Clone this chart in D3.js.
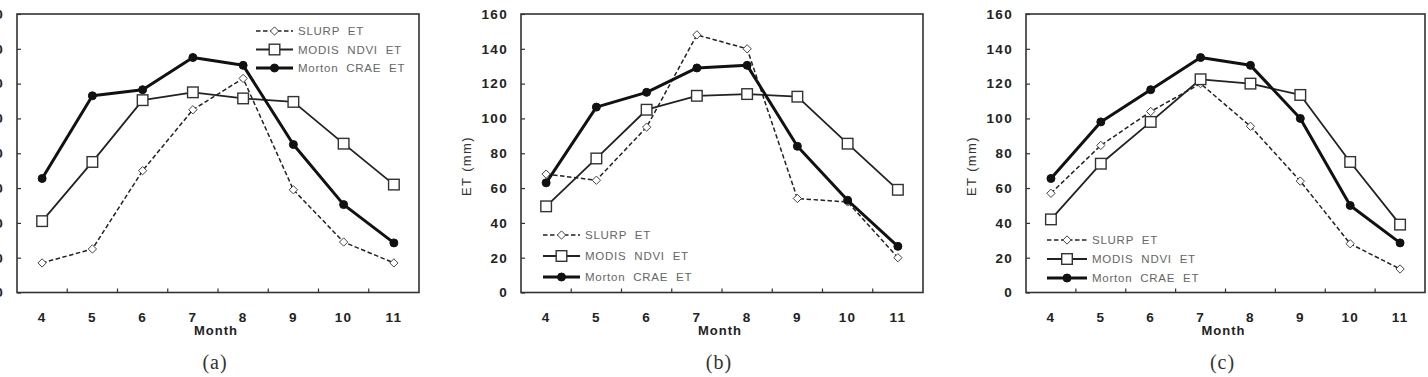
<!DOCTYPE html>
<html>
<head>
<meta charset="utf-8">
<script src="https://cdn.jsdelivr.net/npm/d3@7"></script>
<style>
  html, body { margin: 0; padding: 0; background: #fff; overflow: hidden; }
  svg { display: block; }
</style>
</head>
<body>
<svg id="chart" width="1428" height="377"></svg>
<script>
// ---- data ----
const months = ["4", "5", "6", "7", "8", "9", "10", "11"];
const yTicks = [0, 20, 40, 60, 80, 100, 120, 140, 160];
const seriesNames = ["SLURP  ET", "MODIS  NDVI  ET", "Morton  CRAE  ET"];
const panelLabels = ["(a)", "(b)", "(c)"];

const slurpA  = [17, 25, 70, 105, 123, 59, 29, 17];
const modisA  = [41, 75, 110.5, 115, 111.5, 109.5, 85.5, 62];
const mortonA = [65.5, 113, 116.5, 135, 130.5, 85, 50.5, 28.5];

const slurpB  = [68, 64.5, 95, 148, 140, 54, 52, 20];
const modisB  = [49.5, 77, 105, 113, 114, 112.5, 85.5, 59];
const mortonB = [63, 106.5, 115, 129, 130.5, 84, 53, 26.5];

const slurpC  = [57, 84.5, 104, 120, 95.5, 64, 28, 13.5];
const modisC  = [42, 74, 98, 122.5, 120, 113.5, 75, 39];
const mortonC = [65.5, 98, 116.5, 135, 130.5, 100, 50, 28.5];

// ---- layout ----
const panels = [
  { left: 17,   right: 419,  series: [slurpA, modisA, mortonA], legend: { x: 256,  y: 31,  dy: 18.5, len: 37 } },
  { left: 521,  right: 923,  series: [slurpB, modisB, mortonB], legend: { x: 543,  y: 235, dy: 21,   len: 37 } },
  { left: 1026, right: 1425, series: [slurpC, modisC, mortonC], legend: { x: 1047, y: 240, dy: 19,   len: 40 } }
];
const plotTop = 14, plotBottom = 292.5;
const styles = [
  { width: 1.5, dash: "4.5,2.5", marker: "diamond", color: "#222" },
  { width: 1.8, dash: null,      marker: "square",  color: "#222" },
  { width: 3,   dash: null,      marker: "circle",  color: "#111" }
];

const svg = d3.select("#chart");
const axisFont = "'Liberation Sans', Arial, sans-serif";

function drawMarker(g, type, x, y) {
  if (type === "diamond") {
    g.append("path")
      .attr("d", d3.symbol().type(d3.symbolDiamond2).size(44)())
      .attr("transform", `translate(${x},${y})`)
      .attr("fill", "#fff").attr("stroke", "#444").attr("stroke-width", 1);
  } else if (type === "square") {
    g.append("rect")
      .attr("x", x - 5.3).attr("y", y - 5.3).attr("width", 10.6).attr("height", 10.6)
      .attr("fill", "#fff").attr("stroke", "#333").attr("stroke-width", 1.4);
  } else {
    g.append("circle").attr("cx", x).attr("cy", y).attr("r", 4)
      .attr("fill", "#111").attr("stroke", "#111");
  }
}

panels.forEach((p, pi) => {
  const g = svg.append("g");
  const x = d3.scaleBand().domain(months).range([p.left, p.right]);
  const xc = m => x(m) + x.bandwidth() / 2;
  const y = d3.scaleLinear().domain([0, 160]).range([plotBottom, plotTop]);

  // frame
  g.append("rect")
    .attr("x", p.left).attr("y", plotTop)
    .attr("width", p.right - p.left).attr("height", plotBottom - plotTop)
    .attr("fill", "none").attr("stroke", "#333").attr("stroke-width", 1.6);

  // y axis
  const ya = g.append("g").attr("transform", `translate(${p.left},0)`)
    .call(d3.axisLeft(y).tickValues(yTicks).tickSizeInner(-4).tickSizeOuter(0).tickPadding(13));
  ya.select(".domain").remove();
  ya.selectAll("line").attr("stroke", "#333").attr("stroke-width", 1.2);
  ya.selectAll("text").attr("font-family", axisFont).attr("font-weight", "bold")
    .attr("font-size", 13.5).attr("fill", "#222").style("letter-spacing", "1.3px");

  // x axis labels
  const xa = g.append("g").attr("transform", `translate(0,${plotBottom})`)
    .call(d3.axisBottom(x).tickSize(0).tickPadding(19.5));
  xa.select(".domain").remove();
  xa.selectAll("text").attr("font-family", axisFont).attr("font-weight", "bold")
    .attr("font-size", 13.5).attr("fill", "#222").style("letter-spacing", "1.3px");

  // x ticks at category boundaries (inward)
  g.append("g").selectAll("line")
    .data(months.slice(0, -1))
    .join("line")
    .attr("x1", m => x(m) + x.bandwidth()).attr("x2", m => x(m) + x.bandwidth())
    .attr("y1", plotBottom).attr("y2", plotBottom - 4)
    .attr("stroke", "#333").attr("stroke-width", 1.2);

  // axis titles
  g.append("text")
    .attr("x", (p.left + p.right) / 2 - 2).attr("y", 335)
    .attr("text-anchor", "middle")
    .attr("font-family", axisFont).attr("font-weight", "bold").attr("font-size", 13)
    .attr("fill", "#222").style("letter-spacing", "1px")
    .text("Month");

  g.append("text")
    .attr("transform", `translate(${p.left - 50},166) rotate(-90)`)
    .attr("text-anchor", "middle")
    .attr("font-family", axisFont).attr("font-size", 13)
    .attr("fill", "#333").style("letter-spacing", "1.4px")
    .text("ET (mm)");

  // caption
  g.append("text")
    .attr("x", (p.left + p.right) / 2 - 3).attr("y", 369)
    .attr("text-anchor", "middle")
    .attr("font-family", "'Liberation Serif', 'Times New Roman', serif")
    .attr("font-size", 20).attr("fill", "#333").style("letter-spacing", "1px")
    .text(panelLabels[pi]);

  // series
  p.series.forEach((vals, si) => {
    const st = styles[si];
    const line = d3.line().x((d, i) => xc(months[i])).y(d => y(d));
    g.append("path")
      .attr("d", line(vals))
      .attr("fill", "none").attr("stroke", st.color)
      .attr("stroke-width", st.width)
      .attr("stroke-dasharray", st.dash)
      .attr("stroke-linejoin", "round");
    const mg = g.append("g");
    vals.forEach((v, i) => drawMarker(mg, st.marker, xc(months[i]), y(v)));
  });

  // legend
  const L = p.legend;
  seriesNames.forEach((name, si) => {
    const st = styles[si];
    const ly = L.y + si * L.dy;
    g.append("line")
      .attr("x1", L.x).attr("x2", L.x + L.len).attr("y1", ly).attr("y2", ly)
      .attr("stroke", st.color).attr("stroke-width", st.width)
      .attr("stroke-dasharray", st.dash);
    drawMarker(g, st.marker, L.x + L.len / 2, ly);
    g.append("text")
      .attr("x", L.x + L.len + 5).attr("y", ly)
      .attr("dominant-baseline", "central")
      .attr("font-family", axisFont).attr("font-size", 11.5)
      .attr("fill", "#666").style("letter-spacing", "0.75px")
      .style("white-space", "pre")
      .text(name);
  });
});
</script>
</body>
</html>
